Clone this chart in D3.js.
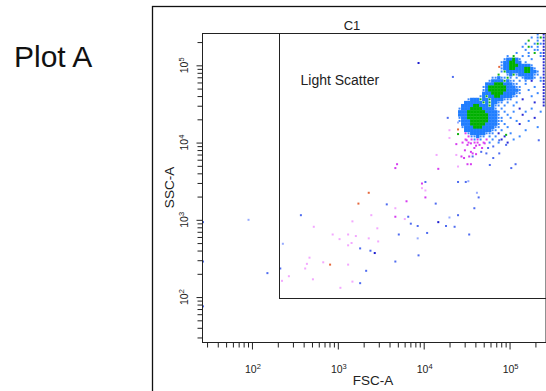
<!DOCTYPE html>
<html>
<head>
<meta charset="utf-8">
<script src="https://cdn.jsdelivr.net/npm/d3@7"></script>
<style>
  html, body { margin: 0; padding: 0; background: #fff; }
  svg { display: block; font-family: "Liberation Sans", Arial, sans-serif; }
</style>
</head>
<body>
<div id="chart"></div>
<script>
// scale limits (18-bit instrument range) and gate
const fscDomain = [26.2, 262144];
const sscDomain = [26.2, 262144];
const decadeTicks = [100, 1000, 10000, 100000];
const gateFsc = [205, 262144];
const gateSsc = [96, 262144];

// density map of the main clusters: rows = SSC bins (top down), cols = FSC bins
// G/B = dense green/blue, g/b/d/m = single events (green, blue, dark blue, magenta)
const mapFscLogStart = 4.40, mapFscLogStep = 0.035;
const mapSscLogStart = 5.42, mapSscLogStep = 0.04;
const clusterMap = [
  "..........................b.d",
  "........................b.bgd",
  ".......................g..b.d",
  "......................b..bgbd",
  ".....................b.gb.b.d",
  "......................b..bb.d",
  "...................b...b.g.bd",
  "................b.g..b.b...bd",
  "...............bBBGBb...b...d",
  "..............bBBGGBB.b.....d",
  "..............bBBGGGBBBBb...d",
  "..............bBBGGBBBGGBb..d",
  "..............bgBBBBBBGGBBb.d",
  ".............g..bBgbBBBBBbb.d",
  "...........bbBbbgb.b.bBBBb.bd",
  "..........bBBBBgBbb.b.b.d..bd",
  ".........BBBGGGBBBbb..b.....d",
  "........bBGGGGGGBBBbb....b..d",
  "........bBGGGGGGBBBBb..b....d",
  "........BBBGGGGBBBBbb.....b.d",
  ".......bBgBBGGBBBBbb....b...d",
  "...bBBBgBBgBBBBbbb...d......d",
  "..BBBBBBgBgBBbb.b..b.....d..d",
  ".BBBBGGBBBgBbb.b..b.........d",
  "bBBBGGGGBBBBb.b.....d...b....",
  "BBBGGGGGGBBBBb.b..b...b....b.",
  "BBBGGGGGGGBBBb..b....d.......",
  "bBBGGGGGGGBBBbb..b.......d...",
  "bBBBGGGGGGBBBbb....b...b.....",
  ".BBBGGGGGBBBBb.b....d........",
  ".bBBBGGGBBBBbb..b.........b..",
  "..BBBBBBBBBbb.b.......b......",
  "..mbBBBBBbbb.d...b...........",
  "...mbbBbb.b.b..d....b........",
  "..m.mbmb.m.b..d...b..........",
  ".m.m.mm.m.b..b..d............"
];

// sparse events, [log10 FSC-A, log10 SSC-A]
const pinkEvents = [
  [4.15,3.84],[3.98,3.41],[4.02,3.38],[3.67,3.15],[3.39,3.06],[3.78,3.01],[3.17,2.98],
  [2.72,2.91],[3.46,2.89],[2.94,2.81],[3.12,2.81],[3.21,2.79],[3.36,2.76],[3.02,2.75],
  [3.16,2.70],[3.47,2.72],[3.12,2.67],[2.67,2.51],[2.83,2.45],[2.64,2.43],[3.12,2.42],
  [2.62,2.37],[2.43,2.27],[2.71,2.23],[2.35,2.21],[3.17,2.20],[3.03,2.12],
  [4.30,4.16],[4.30,4.06],[4.38,3.84],[4.40,3.69]
];
const magentaEvents = [
  [3.69,3.72],[3.67,3.67],[4.17,3.66],[3.98,3.47],[4.02,3.29],[3.80,3.24],[3.67,3.04],
  [4.50,4.03],[4.51,3.97],[4.55,3.99],[4.59,3.93],[4.61,3.96],[4.65,3.97],[4.68,3.93],
  [4.71,3.99],[4.48,3.90],[4.44,3.82],[4.47,3.80],[4.53,3.82],[4.55,3.88],[4.57,3.86],
  [4.61,3.85],[4.51,3.72],[4.55,3.72],[4.38,3.98]
];
const blueEvents = [
  [4.02,3.49],[4.40,3.49],[4.49,3.49],[4.64,3.29],[3.57,3.20],[4.14,3.21],[4.59,3.15],
  [2.57,3.06],[3.82,3.04],[4.40,3.06],[3.85,2.95],[3.93,2.92],[4.26,2.92],[4.36,2.91],
  [4.04,2.83],[3.71,2.81],[4.53,2.81],[3.26,2.63],[3.38,2.60],[3.94,2.54],[3.67,2.46],
  [2.33,2.37],[3.33,2.34],[3.26,2.18],[2.18,2.31],[1.43,2.97],[1.43,2.46],[1.43,1.88],
  [4.34,4.85],[4.28,4.32],[4.75,3.93],[4.81,3.95],[4.88,3.86],[4.77,3.71],[5.02,3.67],
  [5.07,3.72],[4.88,4.03],[4.96,3.97],[5.34,4.03],[4.57,3.82],[4.73,3.86],[4.81,3.80],
  [4.67,3.88]
];
const lightBlueEvents = [
  [4.52,3.50],[4.62,3.35],[4.30,3.03],[3.93,2.76],[2.36,2.69],[1.96,3.00],[4.40,4.26]
];
const darkBlueEvents = [[4.17,2.97],[3.43,2.57],[3.94,5.03]];
const redEvents = [[3.36,3.35],[3.24,3.21],[2.91,2.42],[4.40,4.17],[4.88,4.98]];
const greenEvents = [[4.40,4.11],[4.96,4.10]];

const colors = {
  G: '#00b000', g: '#12b412', B: '#1f7dff', b: '#3a88ff', d: '#2a2ad6', m: '#e040f0',
  pink: '#f3a8ff', magenta: '#d63cf0', blue: '#4f6cf0', lightBlue: '#96aaff',
  darkBlue: '#1c1cd0', red: '#e5683c', green: '#10b010'
};

const W = 546, H = 391;
const plot = { left: 202, right: 545.5, top: 33, bottom: 342 };

const svg = d3.select('#chart').append('svg')
  .attr('width', W)
  .attr('height', H);

// outer panel frame
svg.append('rect')
  .attr('x', 152.5).attr('y', 6.5)
  .attr('width', 420).attr('height', 420)
  .attr('fill', 'none').attr('stroke', '#111').attr('stroke-width', 1.3);

svg.append('text')
  .attr('x', 14).attr('y', 66.5)
  .attr('font-size', 30).attr('fill', '#111')
  .text('Plot A');

const x = d3.scaleLog().domain(fscDomain).range([plot.left, plot.right]);
const y = d3.scaleLog().domain(sscDomain).range([plot.bottom, plot.top]);

svg.append('clipPath').attr('id', 'clip')
  .append('rect')
  .attr('x', plot.left).attr('y', plot.top)
  .attr('width', plot.right - plot.left).attr('height', plot.bottom - plot.top);

const g = svg.append('g').attr('clip-path', 'url(#clip)');

// density map cells
const cells = [];
clusterMap.forEach((row, r) => {
  for (let c = 0; c < row.length; c++) {
    const ch = row[c];
    if (ch === '.') continue;
    cells.push({
      f0: 10 ** (mapFscLogStart + c * mapFscLogStep),
      f1: 10 ** (mapFscLogStart + (c + 1) * mapFscLogStep),
      s0: 10 ** (mapSscLogStart - (r + 1) * mapSscLogStep),
      s1: 10 ** (mapSscLogStart - r * mapSscLogStep),
      ch
    });
  }
});

const isDense = ch => ch === 'B' || ch === 'G';

g.selectAll('rect.cell').data(cells.filter(d => isDense(d.ch))).join('rect')
  .attr('class', 'cell')
  .attr('x', d => x(d.f0))
  .attr('y', d => y(d.s1))
  .attr('width', d => x(d.f1) - x(d.f0) + 0.3)
  .attr('height', d => y(d.s0) - y(d.s1) + 0.3)
  .attr('fill', d => colors[d.ch]);

g.selectAll('rect.ev').data(cells.filter(d => !isDense(d.ch))).join('rect')
  .attr('class', 'ev')
  .attr('x', d => (x(d.f0) + x(d.f1)) / 2 - 1)
  .attr('y', d => (y(d.s0) + y(d.s1)) / 2 - 1)
  .attr('width', 2).attr('height', 2)
  .attr('fill', d => colors[d.ch]);

// sparse events
const eventSets = [
  [pinkEvents, 'pink'], [magentaEvents, 'magenta'], [blueEvents, 'blue'],
  [lightBlueEvents, 'lightBlue'], [darkBlueEvents, 'darkBlue'],
  [redEvents, 'red'], [greenEvents, 'green']
];
eventSets.forEach(([data, key]) => {
  g.selectAll(null).data(data).join('rect')
    .attr('x', d => x(10 ** d[0]) - 1)
    .attr('y', d => y(10 ** d[1]) - 1)
    .attr('width', 2).attr('height', 2)
    .attr('fill', colors[key]);
});

// plot border
svg.append('rect')
  .attr('x', plot.left + 0.5).attr('y', plot.top + 0.5)
  .attr('width', plot.right - plot.left).attr('height', plot.bottom - plot.top)
  .attr('fill', 'none').attr('stroke', '#222').attr('stroke-width', 1);

// gate
svg.append('rect')
  .attr('x', Math.round(x(gateFsc[0])) + 0.5)
  .attr('y', Math.round(y(gateSsc[1])) + 0.5)
  .attr('width', x(gateFsc[1]) - x(gateFsc[0]) + 10)
  .attr('height', Math.round(y(gateSsc[0])) - Math.round(y(gateSsc[1])))
  .attr('fill', 'none').attr('stroke', '#222').attr('stroke-width', 1);

svg.append('text')
  .attr('x', 300.5).attr('y', 85)
  .attr('font-size', 14).attr('fill', '#222')
  .text('Light Scatter');

// axes
const minorTicks = x.ticks().filter(v => !decadeTicks.includes(v));

const xAxisG = svg.append('g').attr('transform', `translate(0,${plot.bottom + 0.5})`);
xAxisG.append('g').call(d3.axisBottom(x).tickValues(minorTicks).tickSize(5).tickFormat(''));
xAxisG.append('g').call(d3.axisBottom(x).tickValues(decadeTicks).tickSize(7).tickFormat(''));
xAxisG.selectAll('.domain').remove();
xAxisG.selectAll('line').attr('stroke', '#222');

const yAxisG = svg.append('g').attr('transform', `translate(${plot.left + 0.5},0)`);
yAxisG.append('g').call(d3.axisLeft(y).tickValues(minorTicks).tickSize(5).tickFormat(''));
yAxisG.append('g').call(d3.axisLeft(y).tickValues(decadeTicks).tickSize(6).tickFormat(''));
yAxisG.selectAll('.domain').remove();
yAxisG.selectAll('line').attr('stroke', '#222');

// decade labels, 10 with superscript exponent
function decadeLabel(sel, v) {
  sel.append('tspan').text('10');
  sel.append('tspan').attr('dy', -4).attr('font-size', 7.5).text(Math.round(Math.log10(v)));
}

decadeTicks.forEach(v => {
  const t = svg.append('text')
    .attr('x', x(v) + 1).attr('y', 373)
    .attr('text-anchor', 'middle')
    .attr('font-size', 10.5).attr('fill', '#222');
  decadeLabel(t, v);

  const ty = svg.append('text')
    .attr('transform', `translate(188,${y(v)}) rotate(-90)`)
    .attr('text-anchor', 'middle')
    .attr('font-size', 10.5).attr('fill', '#222');
  decadeLabel(ty, v);
});

svg.append('text')
  .attr('x', 373).attr('y', 385)
  .attr('text-anchor', 'middle')
  .attr('font-size', 13.5).attr('fill', '#222')
  .text('FSC-A');

svg.append('text')
  .attr('transform', `translate(174,${(plot.top + plot.bottom) / 2}) rotate(-90)`)
  .attr('text-anchor', 'middle')
  .attr('font-size', 13.5).attr('fill', '#222')
  .text('SSC-A');

svg.append('text')
  .attr('x', 352).attr('y', 29.5)
  .attr('text-anchor', 'middle')
  .attr('font-size', 13).attr('fill', '#222')
  .text('C1');
</script>
</body>
</html>
